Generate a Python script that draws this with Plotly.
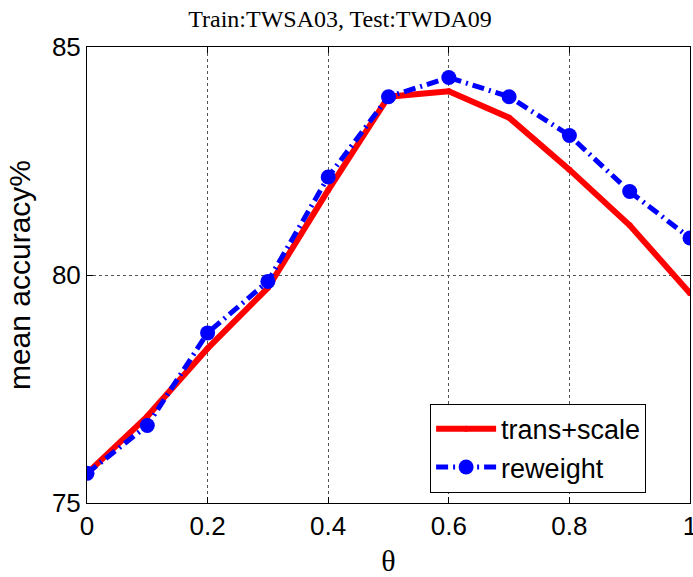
import plotly.graph_objects as go

theta = [0, 0.1, 0.2, 0.3, 0.4, 0.5, 0.6, 0.7, 0.8, 0.9, 1.0]
trans_scale = [75.65, 76.90, 78.39, 79.72, 81.86, 83.91, 84.03, 83.45, 82.31, 81.09, 79.60]
reweight = [75.65, 76.70, 78.73, 79.86, 82.15, 83.91, 84.33, 83.91, 83.06, 81.83, 80.81]

x_ticks = [0, 0.2, 0.4, 0.6, 0.8, 1]
x_ticklabels = ["0", "0.2", "0.4", "0.6", "0.8", "1"]
y_ticks = [75, 80, 85]

fig = go.Figure()
fig.add_trace(go.Scatter(
    x=theta, y=trans_scale, name="trans+scale", mode="lines+markers",
    line=dict(color="#ff0000", width=6),
    marker=dict(color="#ff0000", size=6, symbol="circle"),
))
fig.add_trace(go.Scatter(
    x=theta, y=reweight, name="reweight", mode="lines+markers",
    line=dict(color="#0000ff", width=5, dash="12px,5px,2px,5px"),
    marker=dict(color="#0000ff", size=15, symbol="circle"),
))

# figure slightly wider than the window so the "1" tick label is drawn and clipped like the reference
fig.update_layout(
    width=703, height=577,
    margin=dict(l=87, r=13, t=47, b=74, autoexpand=False),
    paper_bgcolor="white", plot_bgcolor="white",
    title=dict(text="Train:TWSA03, Test:TWDA09", x=340/703, xanchor="center",
               xref="container", yref="container", y=1 - 19/577, yanchor="middle",
               font=dict(family="Liberation Serif", size=24, color="black")),
    font=dict(family="Liberation Sans", color="black"),
    showlegend=True,
    legend=dict(x=0.569, y=0.2175, xanchor="left", yanchor="top",
                bordercolor="black", borderwidth=1, bgcolor="white",
                font=dict(family="Liberation Sans", size=27, color="black"),
                itemwidth=60, tracegroupgap=0),
    xaxis=dict(range=[0, 1], tickvals=x_ticks, ticktext=x_ticklabels, automargin=False,
               showgrid=True, gridcolor="#555555", griddash="dot", gridwidth=1,
               showline=True, linecolor="black", linewidth=1, mirror="ticks",
               ticks="inside", ticklen=6, tickcolor="black",
               tickfont=dict(family="Liberation Sans", size=26, color="black"),
               zeroline=False,
               title=dict(text="θ", font=dict(family="Liberation Serif", size=30, color="black"), standoff=14)),
    yaxis=dict(range=[75, 85], tickvals=y_ticks, automargin=False,
               showgrid=True, gridcolor="#555555", griddash="dot", gridwidth=1,
               showline=True, linecolor="black", linewidth=1, mirror="ticks",
               ticks="inside", ticklen=6, tickcolor="black",
               tickfont=dict(family="Liberation Sans", size=26, color="black"),
               zeroline=False,
               title=dict(text="mean accuracy%", font=dict(family="Liberation Sans", size=30, color="black"), standoff=12)),
)

fig.write_html("out.html", config={"displayModeBar": False},
               post_script="document.body.style.margin='0';document.body.style.overflow='hidden';")
